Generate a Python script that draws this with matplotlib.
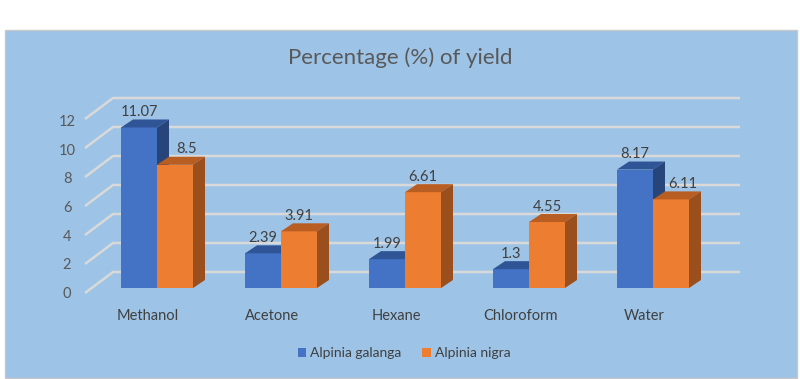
import matplotlib
matplotlib.use("Agg")
import matplotlib.pyplot as plt
from matplotlib.patches import Polygon, Rectangle, Patch

plt.rcParams['font.family'] = ['Lato', 'DejaVu Sans']

solvents = ['Methanol', 'Acetone', 'Hexane', 'Chloroform', 'Water']
galanga = [11.07, 2.39, 1.99, 1.3, 8.17]
nigra = [8.5, 3.91, 6.61, 4.55, 6.11]
yticks = [0, 2, 4, 6, 8, 10, 12]

blue = ('#4472C4', '#2F5597', '#27457A')
orange = ('#ED7D31', '#B85E22', '#9A4F1C')

W, H = 800, 379
fig = plt.figure(figsize=(W / 100, H / 100), dpi=100)
fig.patch.set_facecolor('white')
fig.patches.append(Rectangle((5 / W, 1 / H), 792 / W, 348 / H, transform=fig.transFigure,
                             facecolor='#9DC3E6', edgecolor='#C8C8C8', lw=1, zorder=-1))

# axes mapped so that y=0 sits on the front floor, 14.5 px per unit, 124 px per group
px_x, px_y = 124.0, 14.5
ax = fig.add_axes([95 / W, 91 / H, 620 / W, 203 / H])
ax.set_xlim(-0.5, 4.5)
ax.set_ylim(0, 14)
ax.axis('off')
ax.patch.set_alpha(0)

bw = 36 / px_x
ddx, ddy = 12 / px_x, 8 / px_y          # bar depth
wdx, wdy = 28 / px_x, 21 / px_y         # wall depth

# back wall gridlines + left wall diagonals
x_back0 = -0.5 + (113 - 95) / px_x
x_back1 = -0.5 + (740 - 95) / px_x
x_front = -0.5 + (85 - 95) / px_x
for v in yticks:
    yb = v + (288 - 272) / px_y
    yf = yb - wdy
    ax.plot([x_front, x_back0, x_back1], [yf, yb, yb], color='#D9D9D9', lw=1.8,
            solid_capstyle='butt', clip_on=False, zorder=1)
    ax.text(x_front - 18 / px_x, v * 0.988 - 6 / px_y, str(v), ha='center', va='center',
            fontsize=10.5, color='#595959')


def bar3d(x0, v, cols, z):
    ax.bar(x0, v, width=bw, align='edge', color=cols[0], lw=0, zorder=z)
    x1 = x0 + bw
    ax.add_patch(Polygon([(x0, v), (x1, v), (x1 + ddx, v + ddy), (x0 + ddx, v + ddy)],
                         closed=True, facecolor=cols[1], lw=0, zorder=z, clip_on=False))
    ax.add_patch(Polygon([(x1, 0), (x1 + ddx, ddy), (x1 + ddx, v + ddy), (x1, v)],
                         closed=True, facecolor=cols[2], lw=0, zorder=z, clip_on=False))


for i, (g, n) in enumerate(zip(galanga, nigra)):
    bar3d(i - bw, g, blue, 3 + 2 * i)
    bar3d(i, n, orange, 4 + 2 * i)
    ax.text(i - bw / 2, g + ddy + 7.5 / px_y, f'{g:g}', ha='center', va='center',
            fontsize=10.5, color='#404040', zorder=20)
    shift = ddx if g > n else 0
    ax.text(i + bw / 2 + shift, n + ddy + 7.5 / px_y, f'{n:g}', ha='center', va='center',
            fontsize=10.5, color='#404040', zorder=20)
    ax.text(i - 9 / px_x, -28 / px_y, solvents[i], ha='center', va='center',
            fontsize=10.5, color='#404040', clip_on=False)

fig.text(0.5, 1 - 58 / H, 'Percentage (%) of yield', ha='center', va='center',
         fontsize=16, color='#595959')

handles = [Patch(facecolor=blue[0], label='Alpinia galanga'),
           Patch(facecolor=orange[0], label='Alpinia nigra')]
fig.legend(handles=handles, loc='center', bbox_to_anchor=(0.505, 1 - 353 / H), ncol=2,
           frameon=False, fontsize=10, handlelength=0.6, handleheight=0.6,
           handletextpad=0.3, columnspacing=1.5, labelcolor='#404040')

fig.savefig('out.png', dpi=100, facecolor='white')
